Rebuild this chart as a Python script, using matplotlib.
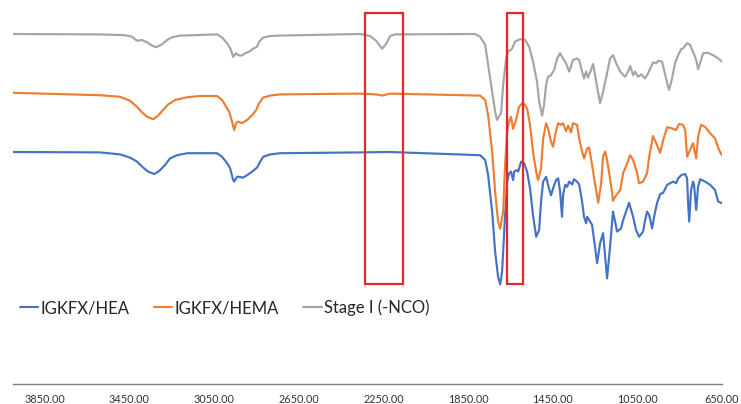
import matplotlib
matplotlib.use("Agg")
import matplotlib.pyplot as plt
from matplotlib.patches import Rectangle

plt.rcParams["font.family"] = ["Lato", "DejaVu Sans"]

# FTIR spectra: wavenumber (cm^-1) and offset transmittance (a.u.)
wn_stage1 = [4000, 3589, 3470, 3437, 3414, 3390, 3366, 3343, 3324, 3296, 3272, 3248,
             3210, 3149, 3036, 3012, 2988, 2970, 2960, 2946, 2936, 2918, 2903, 2880,
             2866, 2847, 2837, 2818, 2785, 2738, 2360, 2313, 2284, 2256, 2237, 2218,
             2195, 1817, 1793, 1769, 1755, 1736, 1722, 1713, 1694, 1684, 1670, 1661,
             1642, 1628, 1604, 1580, 1561, 1543, 1524, 1514, 1500, 1491, 1481, 1472,
             1458, 1443, 1429, 1415, 1401, 1387, 1372, 1354, 1335, 1325, 1311, 1302,
             1292, 1283, 1269, 1259, 1240, 1226, 1212, 1193, 1179, 1165, 1150, 1131,
             1108, 1094, 1084, 1070, 1061, 1046, 1032, 1013, 999, 976, 961, 952, 933,
             924, 909, 900, 886, 872, 857, 843, 834, 815, 801, 787, 772, 763, 749,
             739, 716, 692, 668, 650]
t_stage1 = [87.5, 87.4, 87.2, 86.8, 85.8, 86.0, 85.4, 84.6, 84.2, 84.9, 86.0, 86.7,
            87.1, 87.2, 87.4, 86.6, 85.2, 83.5, 81.8, 82.7, 82.2, 82.1, 82.7, 83.2,
            83.8, 84.3, 85.6, 86.6, 87.0, 87.1, 87.5, 87.0, 85.8, 83.8, 85.0, 87.0,
            87.4, 87.5, 86.8, 84.8, 79.8, 73.1, 68.1, 66.0, 67.7, 74.8, 81.4, 83.1,
            83.8, 85.6, 86.2, 86.0, 84.3, 80.6, 75.6, 70.6, 67.1, 69.8, 74.8, 76.8,
            77.2, 78.5, 81.4, 82.7, 81.4, 80.2, 78.1, 81.0, 81.4, 81.0, 78.1, 76.4,
            78.1, 76.6, 78.5, 80.0, 74.3, 70.2, 73.1, 77.7, 81.4, 82.2, 80.2, 78.1,
            76.8, 78.1, 79.5, 77.2, 78.1, 76.8, 77.4, 76.4, 77.7, 80.4, 80.2, 80.8, 80.6,
            78.5, 75.2, 73.5, 76.4, 80.2, 82.2, 83.7, 83.9, 85.2, 84.8, 83.1, 81.0, 78.7, 81.0,
            82.7, 82.8, 82.2, 81.4, 80.6]

wn_hema = [4000, 3589, 3494, 3447, 3414, 3390, 3366, 3338, 3314, 3291, 3267, 3234,
           3177, 3116, 3036, 3012, 2993, 2979, 2965, 2955, 2946, 2936, 2918, 2894,
           2870, 2851, 2837, 2818, 2785, 2738, 2360, 2284, 2256, 2218, 1793, 1769,
           1755, 1736, 1722, 1708, 1698, 1684, 1675, 1665, 1656, 1647, 1637, 1623,
           1609, 1590, 1571, 1557, 1543, 1528, 1519, 1505, 1495, 1481, 1472, 1458,
           1448, 1439, 1424, 1410, 1401, 1387, 1377, 1363, 1354, 1335, 1325, 1311,
           1302, 1287, 1278, 1264, 1245, 1235, 1221, 1212, 1202, 1193, 1183, 1169,
           1165, 1150, 1131, 1117, 1098, 1084, 1070, 1051, 1042, 1023, 1004, 994,
           976, 961, 942, 928, 909, 886, 867, 853, 834, 824, 815, 801, 787, 772,
           763, 749, 730, 706, 683, 664, 650]
t_hema = [72.8, 72.2, 71.8, 70.8, 69.3, 67.9, 66.8, 66.2, 67.1, 68.5, 69.9, 71.0,
          71.7, 72.0, 72.0, 71.0, 69.3, 68.1, 65.6, 63.5, 65.2, 65.6, 65.2, 66.0,
          67.2, 68.5, 70.2, 71.6, 72.1, 72.4, 72.6, 72.4, 72.1, 72.6, 72.1, 71.0,
          67.2, 58.1, 48.1, 40.6, 38.8, 43.1, 54.8, 63.1, 65.6, 66.8, 63.8, 66.0,
          69.3, 70.4, 68.9, 64.8, 58.1, 53.1, 51.0, 53.9, 61.4, 65.2, 63.9, 60.6,
          59.3, 62.2, 65.2, 64.8, 65.2, 63.2, 64.6, 62.9, 65.2, 64.8, 61.4, 58.1,
          56.4, 58.9, 59.1, 54.8, 48.5, 45.3, 50.2, 56.8, 58.1, 56.0, 52.7, 47.7,
          45.8, 47.2, 48.5, 52.7, 55.2, 57.2, 56.0, 52.7, 50.2, 50.6, 52.7, 56.8,
          62.0, 60.2, 57.8, 61.0, 64.2, 63.9, 63.5, 65.0, 64.8, 63.5, 56.8, 58.5,
          60.2, 56.4, 61.8, 64.8, 64.3, 62.7, 61.4, 58.5, 57.2]

wn_hea = [4000, 3589, 3494, 3447, 3414, 3385, 3362, 3333, 3310, 3281, 3258, 3225,
          3177, 3036, 3012, 2988, 2974, 2960, 2955, 2941, 2932, 2913, 2894, 2870,
          2847, 2832, 2818, 2785, 2738, 2360, 2218, 1793, 1769, 1755, 1736, 1722,
          1708, 1698, 1689, 1675, 1665, 1656, 1647, 1637, 1632, 1618, 1613, 1599,
          1585, 1571, 1557, 1543, 1528, 1514, 1505, 1495, 1481, 1472, 1458, 1448,
          1434, 1424, 1415, 1406, 1401, 1391, 1382, 1372, 1358, 1349, 1335, 1325,
          1311, 1302, 1292, 1287, 1278, 1264, 1250, 1240, 1226, 1212, 1202, 1193,
          1179, 1165, 1155, 1146, 1127, 1117, 1098, 1089, 1070, 1056, 1042, 1023,
          1013, 1004, 994, 980, 971, 957, 942, 928, 909, 895, 881, 867, 857, 843,
          824, 815, 810, 805, 796, 787, 782, 772, 763, 753, 730, 706, 683, 668, 650]
t_hea = [58.0, 57.9, 57.4, 56.6, 55.6, 54.1, 53.1, 52.5, 53.2, 54.8, 56.4, 57.2,
         57.7, 57.7, 56.8, 55.2, 53.9, 51.0, 50.6, 51.8, 51.8, 51.6, 52.2, 53.1,
         54.1, 55.6, 56.8, 57.4, 57.7, 57.9, 58.0, 57.2, 56.0, 52.2, 43.1, 33.1,
         26.8, 24.9, 28.1, 42.2, 50.6, 52.7, 53.1, 51.0, 53.1, 53.5, 53.1, 55.6,
         55.2, 53.1, 48.9, 42.2, 36.8, 38.5, 45.6, 50.6, 51.8, 49.8, 47.2, 48.9,
         51.0, 51.4, 48.1, 41.8, 47.2, 49.8, 49.3, 50.6, 49.9, 51.2, 50.6, 49.9,
         45.6, 41.8, 40.2, 41.8, 41.0, 39.8, 34.3, 30.2, 35.2, 37.7, 31.8, 26.4,
         34.3, 43.1, 40.6, 38.1, 38.9, 41.0, 43.9, 45.3, 41.8, 38.5, 36.8, 38.1,
         41.0, 43.1, 42.2, 38.9, 41.8, 45.2, 47.5, 47.8, 49.8, 50.2, 50.6, 50.2,
         51.4, 52.2, 52.5, 51.4, 45.2, 40.6, 48.5, 50.6, 49.8, 43.5, 49.3, 51.2,
         50.6, 49.8, 48.5, 45.6, 45.2]

series_labels = ["IGKFX/HEA", "IGKFX/HEMA", "Stage I (-NCO)"]
series_colors = ["#4472C4", "#ED7D31", "#A5A5A5"]

# Highlighted wavenumber windows (cm^-1) and their vertical extent
highlight_ranges = [(2337, 2157), (1666, 1590)]
highlight_span = (25.0, 92.75)

tick_values = [3850, 3450, 3050, 2650, 2250, 1850, 1450, 1050, 650]
tick_labels = ["3850.00", "3450.00", "3050.00", "2650.00", "2250.00",
               "1850.00", "1450.00", "1050.00", "650.00"]

fig = plt.figure(figsize=(7.41, 4.04), dpi=100)
ax = fig.add_axes([13 / 741, 20 / 404, 709 / 741, 384 / 404])

for wn, t, lab, col in zip([wn_hea, wn_hema, wn_stage1],
                           [t_hea, t_hema, t_stage1],
                           series_labels, series_colors):
    ax.plot(wn, t, color=col, lw=1.55, label=lab,
            solid_joinstyle="round", solid_capstyle="round")

for x0, x1 in highlight_ranges:
    ax.add_patch(Rectangle((x1, highlight_span[0]), x0 - x1,
                           highlight_span[1] - highlight_span[0],
                           fill=False, edgecolor="#E8262A", lw=1.6, zorder=5))

ax.set_xlim(4000, 650)
ax.set_ylim(0, 96)
ax.set_xticks(tick_values)
ax.set_xticklabels(tick_labels)
ax.tick_params(axis="x", length=0, pad=7, labelsize=7.8, labelcolor="#333333")
ax.set_yticks([])
for side in ["left", "right", "top"]:
    ax.spines[side].set_visible(False)
ax.spines["bottom"].set_color("#7f7f7f")
ax.spines["bottom"].set_linewidth(1.0)

fig.legend(loc="center left", bbox_to_anchor=(20 / 741, (404 - 308) / 404),
           ncol=3, frameon=False, fontsize=12, handlelength=1.1,
           handletextpad=0.15, columnspacing=1.45, borderaxespad=0,
           borderpad=0, labelcolor="#262626")

fig.savefig("out.png", dpi=100)
